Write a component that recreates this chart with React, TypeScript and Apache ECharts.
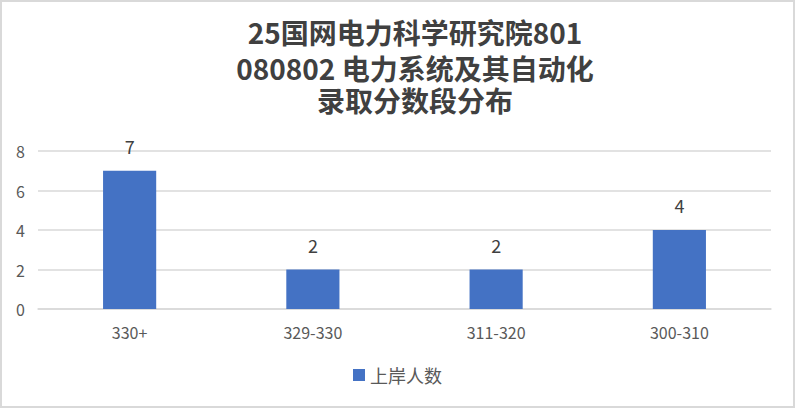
import React, { useEffect, useRef } from 'react';
import * as echarts from 'echarts';

const titleLines = ['25国网电力科学研究院801', '080802 电力系统及其自动化', '录取分数段分布'];
const categories = ['330+', '329-330', '311-320', '300-310'];
const counts = [7, 2, 2, 4];
const seriesName = '上岸人数';

const App: React.FC = () => {
    const chartRef = useRef<HTMLDivElement>(null);

    useEffect(() => {
        document.body.style.margin = '0';
        if (!chartRef.current) return;

        const chart = echarts.init(chartRef.current, undefined, { renderer: 'svg' });
        const font = "'Noto Sans CJK SC', 'Noto Sans', sans-serif";

        // 标题分三行，每行单独放置（容器有2px边框）
        const titleTops = [16, 52, 84];

        const option = {
            animation: false,
            title: titleLines.map((text, i) => ({
                text,
                left: 413,
                textAlign: 'center',
                top: titleTops[i],
                padding: 0,
                textStyle: {
                    fontFamily: font,
                    fontSize: 28,
                    fontWeight: 'bold',
                    color: '#404040',
                    lineHeight: 28
                }
            })),
            grid: {
                left: 36,
                right: 22,
                top: 149,
                bottom: 97
            },
            legend: {
                bottom: 17,
                left: 'center',
                icon: 'rect',
                itemWidth: 12,
                itemHeight: 12,
                itemGap: 8,
                textStyle: {
                    fontFamily: font,
                    fontSize: 18,
                    color: '#595959'
                },
                data: [seriesName]
            },
            xAxis: {
                type: 'category',
                data: categories,
                axisLine: { lineStyle: { color: '#D9D9D9', width: 1.5 } },
                axisTick: { show: false },
                axisLabel: {
                    fontFamily: font,
                    fontSize: 16,
                    color: '#595959',
                    margin: 15
                }
            },
            yAxis: {
                type: 'value',
                min: 0,
                max: 8,
                interval: 2,
                axisLine: { show: false },
                axisTick: { show: false },
                splitLine: { lineStyle: { color: '#D9D9D9', width: 1.5 } },
                axisLabel: {
                    fontFamily: font,
                    fontSize: 16,
                    color: '#595959',
                    margin: 13
                }
            },
            series: [
                {
                    name: seriesName,
                    type: 'bar',
                    data: counts,
                    barWidth: '29%',
                    itemStyle: { color: '#4472C4' },
                    label: {
                        show: true,
                        position: 'top',
                        distance: 16,
                        fontFamily: font,
                        fontSize: 18,
                        color: '#404040'
                    }
                }
            ]
        };

        chart.setOption(option);

        return () => {
            chart.dispose();
        };
    }, []);

    return (
        <div
            ref={chartRef}
            style={{ width: 795, height: 408, border: '2px solid #D9D9D9', boxSizing: 'border-box' }}
        />
    );
};

export default App;
